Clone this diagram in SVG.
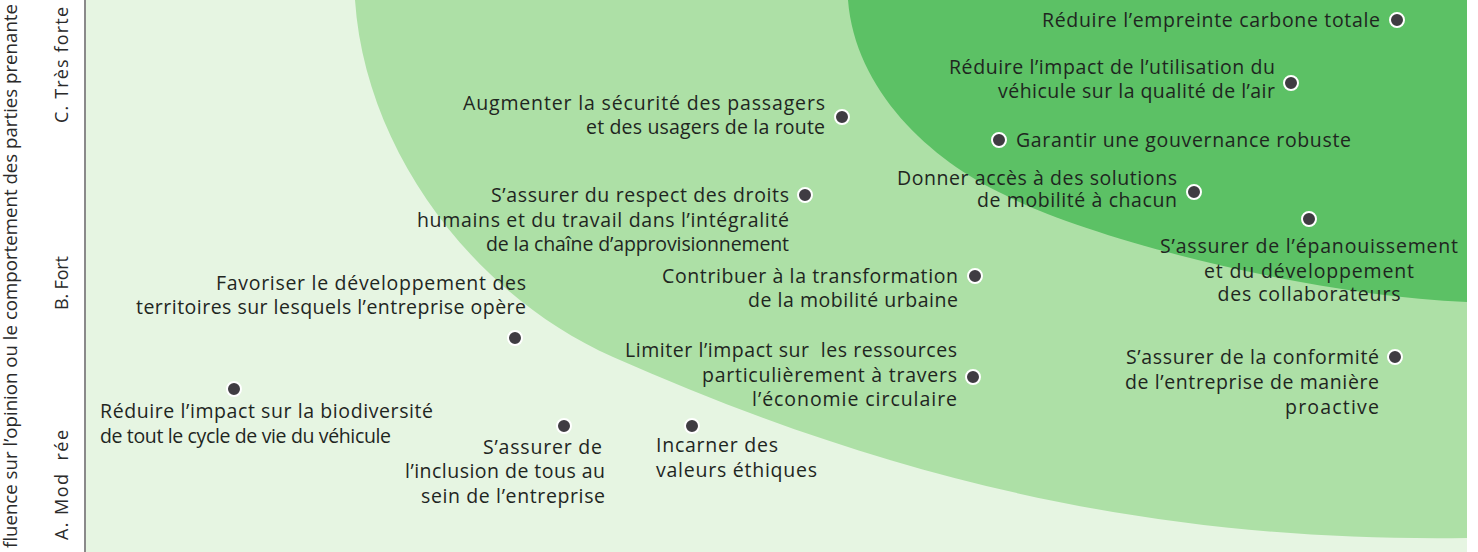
<svg xmlns="http://www.w3.org/2000/svg" width="1478" height="552" viewBox="0 0 1478 552">
<style>
.t{font-family:"Open Sans","Liberation Sans",sans-serif;font-size:19.5px;fill:#1f261f}
.r{text-anchor:end}
.m{text-anchor:middle}
.ax{font-family:"Open Sans","Liberation Sans",sans-serif;font-size:18px;fill:#2a2a2a;text-anchor:middle}
.dot{fill:#3f3c42;stroke:#ffffff;stroke-width:2}
</style>
<defs>
<clipPath id="panel"><rect x="86" y="0" width="1381" height="552"/></clipPath>
</defs>
<rect x="0" y="0" width="1478" height="552" fill="#ffffff"/>
<g id="background" clip-path="url(#panel)">
<rect x="86" y="0" width="1381" height="552" fill="#e6f5e2"/>
<path d="M355,0 C365,150 473,295 613,357 C908,488 1172,542 1467,538 L1467,0 Z" fill="#ade0a6"/>
<path d="M848,0 C855,90 930,160 1005,195 C1080,235 1300,295 1467,302 L1467,0 Z" fill="#5cc165"/>
</g>
<g id="axis">
<line x1="85" y1="0" x2="85" y2="552" stroke="#8a8a8a" stroke-width="2"/>
<text class="ax" transform="translate(17,276) rotate(-90)" textLength="544" lengthAdjust="spacingAndGlyphs">fluence sur l’opinion ou le comportement des parties prenante</text>
<text class="ax" transform="translate(68,65) rotate(-90)" textLength="116">C. Très forte</text>
<text class="ax" transform="translate(68,283) rotate(-90)" textLength="54">B. Fort</text>
<text class="ax" transform="translate(68,485) rotate(-90)" textLength="110" xml:space="preserve">A. Mod  rée</text>
</g>
<g id="n1">
<circle class="dot" cx="1397" cy="20" r="7"/>
<text class="t r"><tspan x="1380" y="27" textLength="338">Réduire l’empreinte carbone totale</tspan></text>
</g>
<g id="n2">
<circle class="dot" cx="1291" cy="83" r="7"/>
<text class="t r"><tspan x="1275" y="74" textLength="326">Réduire l’impact de l’utilisation du</tspan><tspan x="1275" y="98" textLength="277">véhicule sur la qualité de l’air</tspan></text>
</g>
<g id="n3">
<circle class="dot" cx="842" cy="117" r="7"/>
<text class="t r"><tspan x="825" y="110" textLength="362">Augmenter la sécurité des passagers</tspan><tspan x="825" y="134" textLength="239">et des usagers de la route</tspan></text>
</g>
<g id="n4">
<circle class="dot" cx="999" cy="140" r="7"/>
<text class="t"><tspan x="1016" y="147" textLength="335">Garantir une gouvernance robuste</tspan></text>
</g>
<g id="n5">
<circle class="dot" cx="1194" cy="192" r="7"/>
<text class="t r"><tspan x="1177" y="185" textLength="280">Donner accès à des solutions</tspan><tspan x="1177" y="207" textLength="200">de mobilité à chacun</tspan></text>
</g>
<g id="n6">
<circle class="dot" cx="805" cy="195" r="7"/>
<text class="t r"><tspan x="789" y="202" textLength="298">S’assurer du respect des droits</tspan><tspan x="789" y="227" textLength="372">humains et du travail dans l’intégralité</tspan><tspan x="789" y="251" textLength="303">de la chaîne d’approvisionnement</tspan></text>
</g>
<g id="n7">
<circle class="dot" cx="1309" cy="219" r="7"/>
<text class="t m"><tspan x="1309" y="253" textLength="298">S’assurer de l’épanouissement</tspan><tspan x="1309" y="278" textLength="210">et du développement</tspan><tspan x="1309" y="301" textLength="183">des collaborateurs</tspan></text>
</g>
<g id="n8">
<circle class="dot" cx="515" cy="338" r="7"/>
<text class="t r"><tspan x="526" y="290" textLength="310">Favoriser le développement des</tspan><tspan x="526" y="314" textLength="390">territoires sur lesquels l’entreprise opère</tspan></text>
</g>
<g id="n9">
<circle class="dot" cx="975" cy="276" r="7"/>
<text class="t r"><tspan x="958" y="283" textLength="296">Contribuer à la transformation</tspan><tspan x="958" y="307" textLength="210">de la mobilité urbaine</tspan></text>
</g>
<g id="n10">
<circle class="dot" cx="973" cy="377" r="7"/>
<text class="t r" xml:space="preserve"><tspan x="957" y="357" textLength="332">Limiter l’impact sur  les ressources</tspan><tspan x="957" y="382" textLength="255">particulièrement à travers</tspan><tspan x="957" y="406" textLength="205">l’économie circulaire</tspan></text>
</g>
<g id="n11">
<circle class="dot" cx="1395" cy="357" r="7"/>
<text class="t r"><tspan x="1379" y="364" textLength="253">S’assurer de la conformité</tspan><tspan x="1379" y="389" textLength="254">de l’entreprise de manière</tspan><tspan x="1379" y="414" textLength="94">proactive</tspan></text>
</g>
<g id="n12">
<circle class="dot" cx="234" cy="389" r="7"/>
<text class="t"><tspan x="100" y="418" textLength="333">Réduire l’impact sur la biodiversité</tspan><tspan x="100" y="443" textLength="291">de tout le cycle de vie du véhicule</tspan></text>
</g>
<g id="n13">
<circle class="dot" cx="564" cy="426" r="7"/>
<text class="t r"><tspan x="602" y="454" textLength="119">S’assurer de</tspan><tspan x="605" y="478" textLength="200">l’inclusion de tous au</tspan><tspan x="605" y="503" textLength="184">sein de l’entreprise</tspan></text>
</g>
<g id="n14">
<circle class="dot" cx="692" cy="426" r="7"/>
<text class="t"><tspan x="656" y="452" textLength="122">Incarner des</tspan><tspan x="656" y="477" textLength="161">valeurs éthiques</tspan></text>
</g>
</svg>
